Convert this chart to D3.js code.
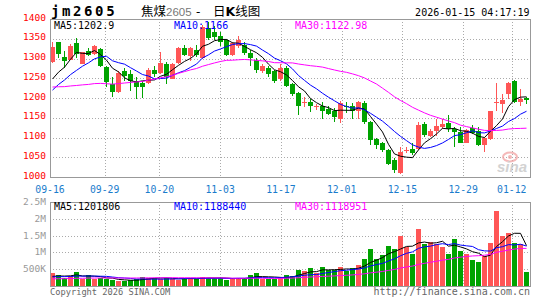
<!DOCTYPE html>
<html>
<head>
<meta charset="utf-8">
<script src="https://cdn.jsdelivr.net/npm/d3@7"></script>
<style>
  body { margin: 0; background: #fff; }
  svg { display: block; }
  text { font-family: "DejaVu Sans Mono", monospace; }
</style>
</head>
<body>
<svg id="chart" width="545" height="300"></svg>
<script>
// ---- data ----
var dates = ['09-16','09-17','09-18','09-19','09-22','09-23','09-24','09-25','09-26','09-29','09-30',
  '10-09','10-10','10-13','10-14','10-15','10-16','10-17','10-20','10-21','10-22','10-23','10-24',
  '10-27','10-28','10-29','10-30','10-31',
  '11-03','11-04','11-05','11-06','11-07','11-10','11-11','11-12','11-13','11-14',
  '11-17','11-18','11-19','11-20','11-21','11-24','11-25','11-26','11-27','11-28',
  '12-01','12-02','12-03','12-04','12-05','12-08','12-09','12-10','12-11','12-12',
  '12-15','12-16','12-17','12-18','12-19','12-22','12-23','12-24','12-25','12-26',
  '12-29','12-30','12-31','01-05','01-06','01-07','01-08','01-09','01-12','01-13','01-14','01-15'];

var openP = [1291,1341,1303,1297,1339,1287,1318,1312,1325,1278,
  1236,1214,1268,1260,1243,1237,1237,1272,1264,1287,
  1249,1289,1327,1306,1322,1302,1377,1368,1356,1347,
  1310,1331,1335,1314,1297,1268,1277,1268,1247,1277,
  1235,1212,1188,1189,1177,1181,1172,1168,1147,1181,
  1181,1168,1187,1139,1096,1085,1068,1042,1010,1067,
  1072,1072,1133,1104,1117,1127,1137,1122,1114,1087,
  1125,1117,1081,1097,1189,1184,1210,1243,1189,1200];

var highP = [1343,1343,1318,1336,1353,1317,1326,1333,1327,1281,
  1252,1268,1277,1272,1252,1243,1275,1281,1316,1290,
  1288,1330,1335,1330,1335,1385,1393,1383,1368,1350,
  1343,1356,1343,1322,1302,1285,1281,1272,1285,1281,
  1239,1214,1203,1197,1185,1189,1180,1175,1193,1190,
  1188,1193,1193,1141,1099,1089,1072,1047,1077,1077,
  1085,1139,1139,1122,1147,1147,1156,1127,1127,1122,
  1131,1127,1102,1168,1239,1210,1241,1245,1222,1203];

var lowP = [1288,1301,1277,1295,1301,1285,1306,1310,1279,1227,
  1202,1212,1243,1218,1197,1201,1235,1252,1262,1235,
  1247,1285,1306,1293,1304,1298,1347,1348,1331,1306,
  1306,1327,1310,1281,1264,1264,1252,1239,1243,1227,
  1206,1156,1178,1164,1170,1147,1156,1139,1136,1162,
  1147,1147,1133,1081,1072,1064,1031,1010,1008,1060,
  1056,1068,1102,1102,1104,1122,1114,1077,1085,1085,
  1110,1078,1064,1093,1166,1161,1198,1187,1181,1185];

var closeP = [1328,1312,1293,1332,1312,1316,1310,1331,1281,1241,
  1214,1264,1256,1243,1227,1227,1272,1260,1289,1252,
  1285,1327,1310,1327,1310,1381,1352,1355,1343,1310,
  1339,1347,1314,1301,1272,1281,1260,1243,1277,1231,
  1210,1181,1190,1181,1179,1168,1160,1152,1187,1177,
  1168,1189,1139,1093,1081,1068,1033,1017,1064,1069,
  1062,1131,1106,1117,1128,1135,1122,1114,1087,1120,
  1112,1081,1100,1166,1191,1196,1238,1189,1197,1194.5];

var volume = [374000,335000,239000,306000,403000,210000,335000,210000,239000,210000,
  181000,143000,143000,181000,210000,277000,239000,239000,210000,239000,
  210000,181000,239000,239000,210000,277000,239000,239000,239000,181000,
  210000,239000,239000,335000,374000,210000,210000,210000,277000,335000,
  306000,480000,451000,528000,374000,566000,480000,480000,566000,451000,
  529000,625000,789000,1106000,789000,914000,1203000,1106000,1491000,1174000,
  952000,1684000,1241000,1318000,1241000,1174000,952000,1395000,1049000,952000,
  761000,722000,886000,1271000,2235000,1478000,1574000,1288000,1262000,407000];

// sessions before 09-16 (off the chart), estimated so the averages start where the picture shows
var warmupCloses = [1290,1285,1280,1275,1270,1275,1270,1265,1270,
  1240,1225,1210,1200,1190,1185,1180,1185,1180,1175,1182,
  1170,1180,1195,1205,1210,1225,1230,1232,1225];
var warmupVolumes = [170000,190000,160000,200000,180000,170000,190000,180000,200000,160000,
  180000,190000,170000,180000,200000,170000,190000,180000,180000,200000,
  230000,250000,270000,240000,260000,280000,250000,270000,260000];

var priceTicks = [1000,1050,1100,1150,1200,1250,1300,1350,1400];
var volTicks = [500000,1000000,1500000,2000000,2500000];
var volTickLabels = ['500K','1M','1.5M','2M','2.5M'];
var dateTicks = ['09-16','09-29','10-20','11-03','11-17','12-01','12-15','12-29','01-12'];
var priceLegend = ['MA5:1202.9','MA10:1166','MA30:1122.98'];
var volLegend = ['MA5:1201806','MA10:1188440','MA30:1118951'];

// ---- layout ----
var left = 50, right = 530;
var pTop = 19, pBottom = 177, vTop = 202, vBottom = 286;
var upColor = '#ff5656', downColor = '#00a300';
var maColors = ['#000000', '#0000ff', '#ff00ff'];
var gridColor = '#aaaaaa', borderColor = '#999999';

var svg = d3.select('#chart');
svg.append('rect').attr('width', 545).attr('height', 300).attr('fill', '#fff');

var idx = d3.range(dates.length);
var xBand = d3.scaleBand().domain(idx).range([left, right]).paddingInner(1/6).paddingOuter(1/12);
var xGrid = d3.scalePoint().domain(idx).range([left, right]);
var yP = d3.scaleLinear().domain([1000, 1400]).range([pBottom, pTop]);
var yV = d3.scaleLinear().domain([0, 2500000]).range([vBottom, vTop]);

function crisp(v) { return Math.round(v) + 0.5; }
function barX(i) { return Math.floor(xBand(i)); }
function midX(i) { return Math.floor(xBand(i)) + 2.5; }

function movingAvg(warm, vals, n) {
  var all = warm.concat(vals), off = warm.length;
  return vals.map(function(d, i) {
    return d3.mean(all.slice(off + i - n + 1, off + i + 1));
  });
}

var tickIdx = dateTicks.map(function(t) { return dates.indexOf(t); });

// ---- grids ----
function drawGrid(yScale, ticks, top, bottom) {
  var g = svg.append('g')
             .attr('stroke', gridColor)
             .attr('stroke-dasharray', '1,2')
             .attr('shape-rendering', 'crispEdges');

  g.selectAll('line.h')
   .data(ticks)
   .enter()
   .append('line')
   .attr('x1', left).attr('x2', right)
   .attr('y1', function(d) { return crisp(yScale(d)); })
   .attr('y2', function(d) { return crisp(yScale(d)); });

  g.selectAll('line.v')
   .data(tickIdx.slice(1))
   .enter()
   .append('line')
   .attr('x1', function(d) { return crisp(xGrid(d)); })
   .attr('x2', function(d) { return crisp(xGrid(d)); })
   .attr('y1', top).attr('y2', bottom);
}
drawGrid(yP, priceTicks.slice(1, -1), pTop, pBottom);
drawGrid(yV, volTicks.slice(0, -1), vTop, vBottom);

// ---- candles ----
var candles = svg.append('g').attr('shape-rendering', 'crispEdges')
                 .selectAll('g')
                 .data(idx)
                 .enter()
                 .append('g')
                 .attr('fill', function(i) { return closeP[i] >= openP[i] ? upColor : downColor; })
                 .attr('stroke', function(i) { return closeP[i] >= openP[i] ? upColor : downColor; });

candles.append('line')
       .attr('x1', midX).attr('x2', midX)
       .attr('y1', function(i) { return Math.round(yP(highP[i])); })
       .attr('y2', function(i) { return Math.round(yP(lowP[i])); });

candles.append('rect')
       .attr('stroke', 'none')
       .attr('x', barX)
       .attr('width', 5)
       .attr('y', function(i) { return Math.round(yP(Math.max(openP[i], closeP[i]))); })
       .attr('height', function(i) {
         return Math.max(1, Math.round(yP(Math.min(openP[i], closeP[i]))) - Math.round(yP(Math.max(openP[i], closeP[i]))));
       });

// ---- volume bars ----
svg.append('g').attr('shape-rendering', 'crispEdges')
   .selectAll('rect')
   .data(idx)
   .enter()
   .append('rect')
   .attr('x', barX)
   .attr('width', 5)
   .attr('y', function(i) { return Math.round(yV(volume[i])); })
   .attr('height', function(i) { return vBottom - Math.round(yV(volume[i])); })
   .attr('fill', function(i) { return closeP[i] >= openP[i] ? upColor : downColor; });

// ---- moving averages ----
var periods = [5, 10, 30];
function drawMA(series, yScale, top, bottom, clipId) {
  svg.append('clipPath').attr('id', clipId)
     .append('rect').attr('x', left).attr('y', top).attr('width', right - left).attr('height', bottom - top);
  var g = svg.append('g').attr('clip-path', 'url(#' + clipId + ')');
  periods.forEach(function(n, k) {
    var ma = movingAvg(series[0], series[1], n);
    var line = d3.line()
                 .x(function(d, i) { return midX(i); })
                 .y(function(d) { return yScale(d); });
    g.append('path')
     .attr('d', line(ma))
     .attr('fill', 'none')
     .attr('stroke', maColors[k])
     .attr('stroke-width', 1);
  });
}
drawMA([warmupCloses, closeP], yP, pTop, pBottom, 'clipP');
drawMA([warmupVolumes, volume], yV, vTop, vBottom, 'clipV');

// ---- borders ----
[[pTop, pBottom], [vTop, vBottom]].forEach(function(p) {
  svg.append('rect')
     .attr('x', left + 0.5).attr('y', p[0] + 0.5)
     .attr('width', right - left).attr('height', p[1] - p[0])
     .attr('fill', 'none')
     .attr('stroke', borderColor)
     .attr('shape-rendering', 'crispEdges');
});

// ---- axis labels ----
svg.append('g').selectAll('text')
   .data(priceTicks)
   .enter()
   .append('text')
   .attr('x', 46)
   .attr('y', function(d) { return yP(d) + 1.5; })
   .attr('text-anchor', 'end')
   .attr('fill', '#ff0000')
   .style('font-size', '9.5px')
   .text(function(d) { return d; });

svg.append('g').selectAll('text')
   .data(volTicks)
   .enter()
   .append('text')
   .attr('x', 46)
   .attr('y', function(d) { return yV(d) + 3; })
   .attr('text-anchor', 'end')
   .attr('fill', '#999999')
   .style('font-size', '9.5px')
   .text(function(d, i) { return volTickLabels[i]; });

svg.append('g').selectAll('text')
   .data(tickIdx)
   .enter()
   .append('text')
   .attr('x', function(d) { return xGrid(d); })
   .attr('y', 192.5)
   .attr('text-anchor', 'middle')
   .attr('fill', '#1a7ccc')
   .style('font-size', '9.8px')
   .text(function(d) { return dates[d]; });

// ---- legends ----
var legendX = [54, 174, 295];
svg.append('g').selectAll('text')
   .data(priceLegend)
   .enter()
   .append('text')
   .attr('x', function(d, i) { return legendX[i]; })
   .attr('y', 28.5)
   .attr('fill', function(d, i) { return maColors[i]; })
   .style('font-size', '10px')
   .text(function(d) { return d; });

svg.append('g').selectAll('text')
   .data(volLegend)
   .enter()
   .append('text')
   .attr('x', function(d, i) { return legendX[i]; })
   .attr('y', 210)
   .attr('fill', function(d, i) { return maColors[i]; })
   .style('font-size', '10px')
   .text(function(d) { return d; });

// ---- title ----
svg.append('text')
   .attr('x', 51).attr('y', 15.5)
   .style('font-size', '14px').style('font-weight', 'bold')
   .style('letter-spacing', '2.6px')
   .text('jm2605');

svg.append('text')
   .attr('x', 141).attr('y', 15.5)
   .style('font-family', '"Noto Sans CJK SC", sans-serif').style('font-size', '12.5px')
   .text('焦煤');
svg.append('text')
   .attr('x', 166).attr('y', 15.5)
   .style('font-family', '"Liberation Sans", sans-serif').style('font-size', '11.5px')
   .attr('fill', '#777')
   .text('2605');
svg.append('text')
   .attr('x', 196).attr('y', 15.5)
   .style('font-family', '"DejaVu Sans", sans-serif').style('font-size', '12px')
   .text('-');
var kt = svg.append('text')
   .attr('x', 213).attr('y', 15.5)
   .style('font-family', '"Noto Sans CJK SC", sans-serif').style('font-size', '12.5px');
kt.append('tspan').text('日');
kt.append('tspan').style('font-family', '"DejaVu Sans", sans-serif').style('font-weight', 'bold').text('K');
kt.append('tspan').text('线图');

svg.append('text')
   .attr('x', 529.5).attr('y', 15.5)
   .attr('text-anchor', 'end')
   .style('font-size', '10px')
   .text('2026-01-15 04:17:19');

// ---- footer ----
svg.append('text')
   .attr('x', 50).attr('y', 294.5)
   .attr('fill', '#666')
   .style('font-size', '8.7px')
   .text('Copyright 2026 SINA.COM');
svg.append('text')
   .attr('x', 530).attr('y', 295)
   .attr('text-anchor', 'end')
   .attr('fill', '#666')
   .style('font-size', '10px')
   .text('http://finance.sina.com.cn');

// ---- watermark ----
var wm = svg.append('g').attr('opacity', 0.75);
wm.append('ellipse').attr('cx', 510).attr('cy', 157).attr('rx', 7).attr('ry', 4.5)
  .attr('fill', 'none').attr('stroke', '#f2a2a2').attr('stroke-width', 2);
wm.append('circle').attr('cx', 510).attr('cy', 157).attr('r', 2).attr('fill', '#f2a2a2');
wm.append('text').attr('x', 497).attr('y', 171.5)
  .style('font-family', '"Liberation Sans", sans-serif')
  .style('font-size', '15px').style('font-weight', 'bold').style('font-style', 'italic')
  .attr('fill', '#c4c4c4')
  .text('sina');
</script>
</body>
</html>
